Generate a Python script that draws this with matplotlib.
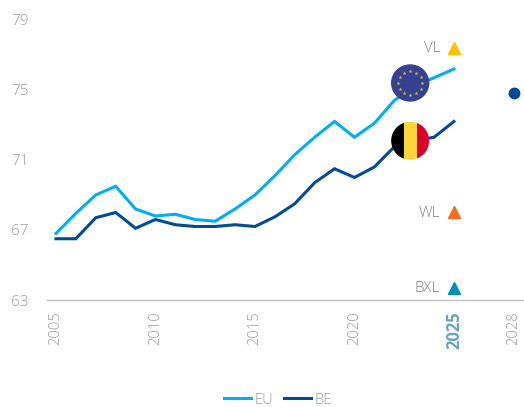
import matplotlib
matplotlib.use("Agg")
import matplotlib.pyplot as plt
from matplotlib.patches import Ellipse, Rectangle

plt.rcParams['font.family'] = ['Open Sans', 'DejaVu Sans']
plt.rcParams['font.weight'] = 'light'

annees = list(range(2005, 2026))
eu = [66.8, 67.95, 69.0, 69.5, 68.2, 67.8, 67.9, 67.6, 67.5, 68.2, 69.0,
      70.1, 71.3, 72.3, 73.2, 72.3, 73.1, 74.4, 75.2, 75.7, 76.2]
be = [66.5, 66.5, 67.7, 68.0, 67.1, 67.6, 67.3, 67.2, 67.2, 67.3, 67.2,
      67.75, 68.5, 69.7, 70.5, 70.0, 70.6, 71.75, 72.1, 72.3, 73.2]

regions = ["VL", "WL", "BXL"]
regions_val = [77.4, 68.0, 63.7]
regions_col = ["#ffc000", "#f26e21", "#0090b8"]

objectif_annee = 2028
objectif_val = 74.8

x_ticks = [2005, 2010, 2015, 2020, 2025, 2028]
y_ticks = [63, 67, 71, 75, 79]

GRIS = "#9c9c9c"
W, H = 524, 407
fig = plt.figure(figsize=(W/100, H/100), dpi=100)
ax = fig.add_axes([47/W, 1-300/H, (W-47)/W, 290/H])
ax.set_xlim(2004.55, 2028.52)
ax.set_ylim(63, 79.57)

ax.plot(annees, eu, color="#00aeef", lw=2.2, label="EU", solid_joinstyle="miter")
ax.plot(annees, be, color="#004b93", lw=2.2, label="BE", solid_joinstyle="miter")

# objectifs regionaux 2025
for nom, val, col in zip(regions, regions_val, regions_col):
    ax.plot([2025], [val], marker="^", ms=8.5, color=col, ls="none", clip_on=False)
    ax.annotate(nom, (2025, val), xytext=(-10, -0.5), textcoords="offset points",
                ha="right", va="center", fontsize=11, color="#808080")
ax.plot([objectif_annee], [objectif_val], marker="o", ms=7.5, color="#004b93", ls="none", clip_on=False)

# drapeaux
px_x = 1/19.9
px_y = 1/17.5
eu_x, eu_y = 2022.8, 75.4
drapeau_eu = Ellipse((eu_x, eu_y), 37*px_x, 36*px_y, color="#36428f", zorder=5)
ax.add_patch(drapeau_eu)
for dx, dy in [(0, 12), (6, 10.4), (10.4, 6), (12, 0), (10.4, -6), (6, -10.4),
               (0, -12), (-6, -10.4), (-10.4, -6), (-12, 0), (-10.4, 6), (-6, 10.4)]:
    ax.plot([eu_x+dx*px_x], [eu_y+dy*px_y], marker="*", ms=3, color="#c9c04a", mew=0, zorder=6)

be_x, be_y = 2022.8, 72.1
r_x, r_y = 19*px_x, 19*px_y
drapeau_be = Ellipse((be_x, be_y), 2*r_x, 2*r_y, facecolor="none", edgecolor="none", zorder=5)
ax.add_patch(drapeau_be)
for i, col in enumerate(["#000000", "#fcd639", "#d8002a"]):
    bande = Rectangle((be_x-r_x+i*2*r_x/3, be_y-r_y), 2*r_x/3, 2*r_y, color=col, lw=0, zorder=5)
    ax.add_patch(bande)
    bande.set_clip_path(drapeau_be)

for s in ["top", "left", "right"]:
    ax.spines[s].set_visible(False)
ax.spines["bottom"].set_color("#bfbfbf")
ax.spines["bottom"].set_linewidth(1)

ax.set_xticks(x_ticks)
ax.set_yticks(y_ticks)
ax.tick_params(axis="both", length=0, labelcolor=GRIS, labelsize=10.5)
ax.tick_params(axis="y", pad=13, labelsize=11)
ax.tick_params(axis="x", pad=8, labelrotation=90)
for t in ax.get_yticklabels():
    t.set_va("center_baseline")
for t in ax.get_xticklabels():
    if t.get_text() == "2025":
        t.set_color("#6aa5b8")
        t.set_fontweight("bold")
        t.set_fontsize(12)

fig.legend(*ax.get_legend_handles_labels(), loc="center", bbox_to_anchor=(278/W, 1-400/H),
           ncol=2, frameon=False, fontsize=10.5, labelcolor=GRIS, handlelength=1.8,
           handletextpad=0.25, columnspacing=0.8)

fig.savefig("out.png", dpi=100)
